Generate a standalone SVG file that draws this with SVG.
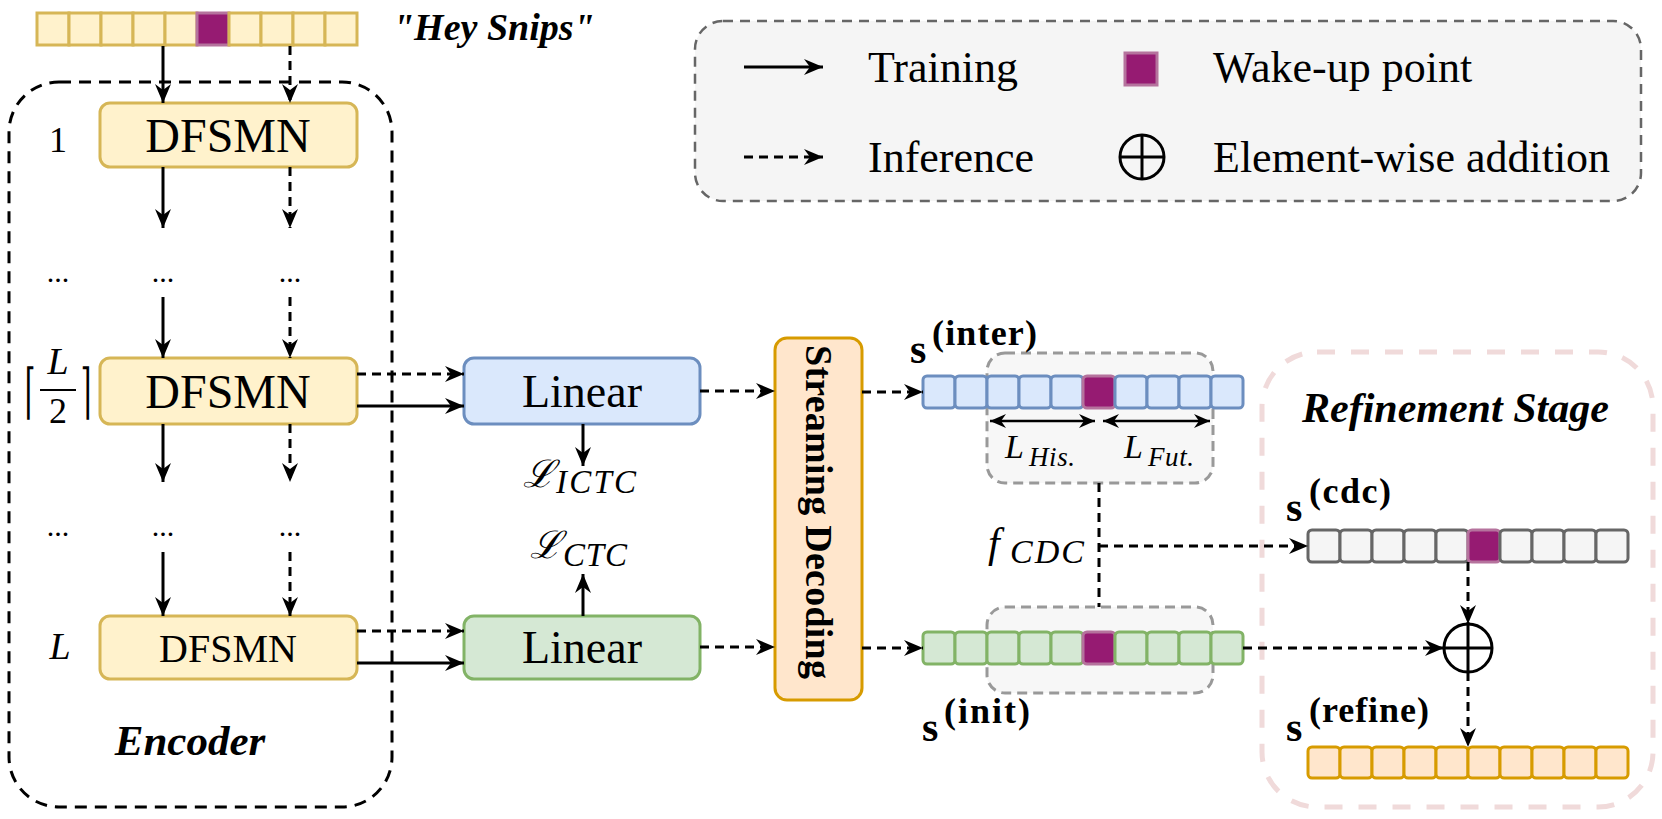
<svg xmlns="http://www.w3.org/2000/svg" width="1662" height="819" viewBox="0 0 1662 819">
<defs>
<marker id="ah" markerUnits="userSpaceOnUse" markerWidth="22" markerHeight="18" refX="19" refY="8" orient="auto-start-reverse" viewBox="0 0 22 18">
<path d="M0,0 L19,8 L0,16 L6,8 z" fill="#000"/>
</marker>
<marker id="ahs" markerUnits="userSpaceOnUse" markerWidth="18" markerHeight="16" refX="16" refY="7" orient="auto-start-reverse" viewBox="0 0 18 16">
<path d="M0,0 L16,7 L0,14 L5,7 z" fill="#000"/>
</marker>
</defs>
<style>
text{font-family:"Liberation Serif","Times New Roman",serif;fill:#000}
.bi{font-weight:bold;font-style:italic}
.it{font-style:italic}
.b{font-weight:bold}
.dj{font-family:"DejaVu Serif",serif}
.yel{fill:#fff2cc;stroke:#d6b656;stroke-width:3}
.blu{fill:#dae8fc;stroke:#6c8ebf;stroke-width:3}
.grn{fill:#d5e8d4;stroke:#82b366;stroke-width:3}
.gry{fill:#f5f5f5;stroke:#666666;stroke-width:3}
.org{fill:#ffe6cc;stroke:#d79b00;stroke-width:3}
.pur{fill:#961b72;stroke:#b5739d;stroke-width:3}
.win{fill:#f7f7f7;stroke:#999999;stroke-width:3;stroke-dasharray:10 6}
.sol{stroke:#000;stroke-width:3;fill:none;marker-end:url(#ah)}
.dsh{stroke:#000;stroke-width:3;fill:none;stroke-dasharray:9 6;marker-end:url(#ah)}
.dl{stroke:#000;stroke-width:3;fill:none;stroke-dasharray:9 6}
</style>
<rect width="1662" height="819" fill="#fff"/>

<g id="legend">
<rect x="695" y="21" width="946" height="180" rx="28" fill="#f5f5f5" stroke="#666" stroke-width="2.5" stroke-dasharray="10 7"/>
<line x1="744" y1="67" x2="823" y2="67" class="sol"/>
<text x="868" y="82" font-size="44">Training</text>
<rect x="1125" y="53" width="32" height="32" class="pur"/>
<text x="1213" y="82" font-size="44">Wake-up point</text>
<line x1="744" y1="157" x2="823" y2="157" class="dsh"/>
<text x="868" y="172" font-size="44">Inference</text>
<circle cx="1142" cy="157" r="22" fill="none" stroke="#000" stroke-width="3"/>
<line x1="1120" y1="157" x2="1164" y2="157" stroke="#000" stroke-width="3"/>
<line x1="1142" y1="135" x2="1142" y2="179" stroke="#000" stroke-width="3"/>
<text x="1213" y="172" font-size="44">Element-wise addition</text>
</g>

<g id="input-seq">
<rect x="37" y="13" width="32" height="32" class="yel"/>
<rect x="69" y="13" width="32" height="32" class="yel"/>
<rect x="101" y="13" width="32" height="32" class="yel"/>
<rect x="133" y="13" width="32" height="32" class="yel"/>
<rect x="165" y="13" width="32" height="32" class="yel"/>
<rect x="197" y="13" width="32" height="32" class="pur"/>
<rect x="229" y="13" width="32" height="32" class="yel"/>
<rect x="261" y="13" width="32" height="32" class="yel"/>
<rect x="293" y="13" width="32" height="32" class="yel"/>
<rect x="325" y="13" width="32" height="32" class="yel"/>
<text x="393" y="40" font-size="38" class="bi">"Hey Snips"</text>
</g>

<g id="encoder">
<rect x="9" y="82" width="383" height="725" rx="50" fill="none" stroke="#000" stroke-width="3" stroke-dasharray="12 8"/>
<text x="190" y="755" font-size="43" class="bi" text-anchor="middle">Encoder</text>
<text x="58" y="152" font-size="36" text-anchor="middle">1</text>
<text x="58" y="282" font-size="30" text-anchor="middle">...</text>
<text x="163" y="282" font-size="30" text-anchor="middle">...</text>
<text x="290" y="282" font-size="30" text-anchor="middle">...</text>
<text x="58" y="536" font-size="30" text-anchor="middle">...</text>
<text x="163" y="536" font-size="30" text-anchor="middle">...</text>
<text x="290" y="536" font-size="30" text-anchor="middle">...</text>
<text transform="translate(30,412) scale(0.55,1.2)" font-size="50" class="dj" text-anchor="middle">⌈</text>
<text transform="translate(86,412) scale(0.55,1.2)" font-size="50" class="dj" text-anchor="middle">⌉</text>
<text x="58" y="374" font-size="38" class="it" text-anchor="middle">L</text>
<line x1="40" y1="390" x2="76" y2="390" stroke="#000" stroke-width="2"/>
<text x="58" y="423" font-size="36" text-anchor="middle">2</text>
<text x="60" y="659" font-size="38" class="it" text-anchor="middle">L</text>
</g>

<g id="dfsmn-1">
<rect x="100" y="103" width="257" height="64" rx="10" class="yel"/>
<text x="228" y="152" font-size="48" text-anchor="middle">DFSMN</text>
</g>
<g id="dfsmn-half">
<rect x="100" y="358" width="257" height="66" rx="10" class="yel"/>
<text x="228" y="408" font-size="48" text-anchor="middle">DFSMN</text>
</g>
<g id="dfsmn-L">
<rect x="100" y="616" width="257" height="63" rx="10" class="yel"/>
<text x="228" y="662" font-size="40" text-anchor="middle">DFSMN</text>
</g>

<g id="linear-blue">
<rect x="464" y="358" width="236" height="66" rx="10" class="blu"/>
<text x="582" y="407" font-size="46" text-anchor="middle">Linear</text>
</g>
<g id="linear-green">
<rect x="464" y="616" width="236" height="63" rx="10" class="grn"/>
<text x="582" y="663" font-size="46" text-anchor="middle">Linear</text>
</g>

<g id="loss-ictc">
<text x="523" y="487" font-size="38" class="dj" font-style="italic">ℒ</text>
<text x="556" y="493" font-size="33" class="it" textLength="80">ICTC</text>
</g>
<g id="loss-ctc">
<text x="530" y="558" font-size="38" class="dj" font-style="italic">ℒ</text>
<text x="563" y="566" font-size="33" class="it" textLength="64">CTC</text>
</g>

<g id="streaming">
<rect x="775" y="338" width="87" height="362" rx="12" class="org"/>
<text transform="translate(806,512) rotate(90)" font-size="38" class="b" text-anchor="middle" textLength="334">Streaming Decoding</text>
</g>

<g id="window-inter">
<rect x="987" y="353" width="226" height="130" rx="18" class="win"/>
</g>
<g id="window-init">
<rect x="987" y="607" width="226" height="86" rx="18" class="win"/>
</g>

<g id="seq-inter">
<rect x="923" y="376" width="32" height="32" rx="4" class="blu"/>
<rect x="955" y="376" width="32" height="32" rx="4" class="blu"/>
<rect x="987" y="376" width="32" height="32" rx="4" class="blu"/>
<rect x="1019" y="376" width="32" height="32" rx="4" class="blu"/>
<rect x="1051" y="376" width="32" height="32" rx="4" class="blu"/>
<rect x="1083" y="376" width="32" height="32" rx="4" class="pur"/>
<rect x="1115" y="376" width="32" height="32" rx="4" class="blu"/>
<rect x="1147" y="376" width="32" height="32" rx="4" class="blu"/>
<rect x="1179" y="376" width="32" height="32" rx="4" class="blu"/>
<rect x="1211" y="376" width="32" height="32" rx="4" class="blu"/>
<text x="910" y="363" font-size="42" class="b">s</text>
<text x="932" y="345" font-size="36" class="b" textLength="105">(inter)</text>
</g>

<g id="seq-init">
<rect x="923" y="632" width="32" height="32" rx="4" class="grn"/>
<rect x="955" y="632" width="32" height="32" rx="4" class="grn"/>
<rect x="987" y="632" width="32" height="32" rx="4" class="grn"/>
<rect x="1019" y="632" width="32" height="32" rx="4" class="grn"/>
<rect x="1051" y="632" width="32" height="32" rx="4" class="grn"/>
<rect x="1083" y="632" width="32" height="32" rx="4" class="pur"/>
<rect x="1115" y="632" width="32" height="32" rx="4" class="grn"/>
<rect x="1147" y="632" width="32" height="32" rx="4" class="grn"/>
<rect x="1179" y="632" width="32" height="32" rx="4" class="grn"/>
<rect x="1211" y="632" width="32" height="32" rx="4" class="grn"/>
<text x="922" y="741" font-size="42" class="b">s</text>
<text x="944" y="723" font-size="36" class="b" textLength="86">(init)</text>
</g>

<g id="hist-fut">
<text x="1005" y="458" font-size="34" class="it">L</text>
<text x="1029" y="466" font-size="27" class="it" textLength="46">His.</text>
<text x="1124" y="458" font-size="34" class="it">L</text>
<text x="1148" y="466" font-size="27" class="it" textLength="46">Fut.</text>
</g>

<g id="fcdc">
<text x="988" y="557" font-size="42" class="it">f</text>
<text x="1010" y="563" font-size="34" class="it" textLength="74">CDC</text>
</g>

<g id="refinement">
<rect x="1262" y="352" width="391" height="455" rx="55" fill="none" stroke="#f0dada" stroke-width="5" stroke-dasharray="18 16"/>
<text x="1302" y="422" font-size="42" class="bi">Refinement Stage</text>
</g>

<g id="seq-cdc">
<rect x="1308" y="530" width="32" height="32" rx="4" class="gry"/>
<rect x="1340" y="530" width="32" height="32" rx="4" class="gry"/>
<rect x="1372" y="530" width="32" height="32" rx="4" class="gry"/>
<rect x="1404" y="530" width="32" height="32" rx="4" class="gry"/>
<rect x="1436" y="530" width="32" height="32" rx="4" class="gry"/>
<rect x="1468" y="530" width="32" height="32" rx="4" class="pur"/>
<rect x="1500" y="530" width="32" height="32" rx="4" class="gry"/>
<rect x="1532" y="530" width="32" height="32" rx="4" class="gry"/>
<rect x="1564" y="530" width="32" height="32" rx="4" class="gry"/>
<rect x="1596" y="530" width="32" height="32" rx="4" class="gry"/>
<text x="1286" y="521" font-size="42" class="b">s</text>
<text x="1309" y="503" font-size="36" class="b" textLength="82">(cdc)</text>
</g>

<g id="plus">
<circle cx="1468" cy="648" r="24" fill="#fff" stroke="#000" stroke-width="3"/>
<line x1="1444" y1="648" x2="1492" y2="648" stroke="#000" stroke-width="3"/>
<line x1="1468" y1="624" x2="1468" y2="672" stroke="#000" stroke-width="3"/>
</g>

<g id="seq-refine">
<rect x="1308" y="747" width="32" height="31" rx="4" class="org"/>
<rect x="1340" y="747" width="32" height="31" rx="4" class="org"/>
<rect x="1372" y="747" width="32" height="31" rx="4" class="org"/>
<rect x="1404" y="747" width="32" height="31" rx="4" class="org"/>
<rect x="1436" y="747" width="32" height="31" rx="4" class="org"/>
<rect x="1468" y="747" width="32" height="31" rx="4" class="org"/>
<rect x="1500" y="747" width="32" height="31" rx="4" class="org"/>
<rect x="1532" y="747" width="32" height="31" rx="4" class="org"/>
<rect x="1564" y="747" width="32" height="31" rx="4" class="org"/>
<rect x="1596" y="747" width="32" height="31" rx="4" class="org"/>
<text x="1286" y="741" font-size="42" class="b">s</text>
<text x="1309" y="722" font-size="36" class="b" textLength="120">(refine)</text>
</g>

<g id="connectors">
<line x1="163" y1="46" x2="163" y2="103" class="sol"/>
<line x1="290" y1="46" x2="290" y2="103" class="dsh"/>
<line x1="163" y1="167" x2="163" y2="228" class="sol"/>
<line x1="290" y1="167" x2="290" y2="228" class="dsh"/>
<line x1="163" y1="297" x2="163" y2="358" class="sol"/>
<line x1="290" y1="297" x2="290" y2="358" class="dsh"/>
<line x1="163" y1="424" x2="163" y2="482" class="sol"/>
<line x1="290" y1="424" x2="290" y2="482" class="dsh"/>
<line x1="163" y1="552" x2="163" y2="616" class="sol"/>
<line x1="290" y1="552" x2="290" y2="616" class="dsh"/>
<line x1="357" y1="374" x2="464" y2="374" class="dsh"/>
<line x1="357" y1="406" x2="464" y2="406" class="sol"/>
<line x1="357" y1="631" x2="464" y2="631" class="dsh"/>
<line x1="357" y1="663" x2="464" y2="663" class="sol"/>
<line x1="583" y1="424" x2="583" y2="466" class="sol"/>
<line x1="583" y1="616" x2="583" y2="574" class="sol"/>
<line x1="700" y1="391" x2="775" y2="391" class="dsh"/>
<line x1="700" y1="647" x2="775" y2="647" class="dsh"/>
<line x1="862" y1="392" x2="923" y2="392" class="dsh"/>
<line x1="862" y1="648" x2="923" y2="648" class="dsh"/>
<line x1="990" y1="421" x2="1095" y2="421" stroke="#000" stroke-width="2.5" marker-start="url(#ahs)" marker-end="url(#ahs)"/>
<line x1="1103" y1="421" x2="1210" y2="421" stroke="#000" stroke-width="2.5" marker-start="url(#ahs)" marker-end="url(#ahs)"/>
<line x1="1099" y1="483" x2="1099" y2="607" class="dl"/>
<line x1="1099" y1="546" x2="1308" y2="546" class="dsh"/>
<line x1="1468" y1="562" x2="1468" y2="624" class="dsh"/>
<line x1="1243" y1="648" x2="1444" y2="648" class="dsh"/>
<line x1="1468" y1="672" x2="1468" y2="747" class="dsh"/>
</g>
</svg>
